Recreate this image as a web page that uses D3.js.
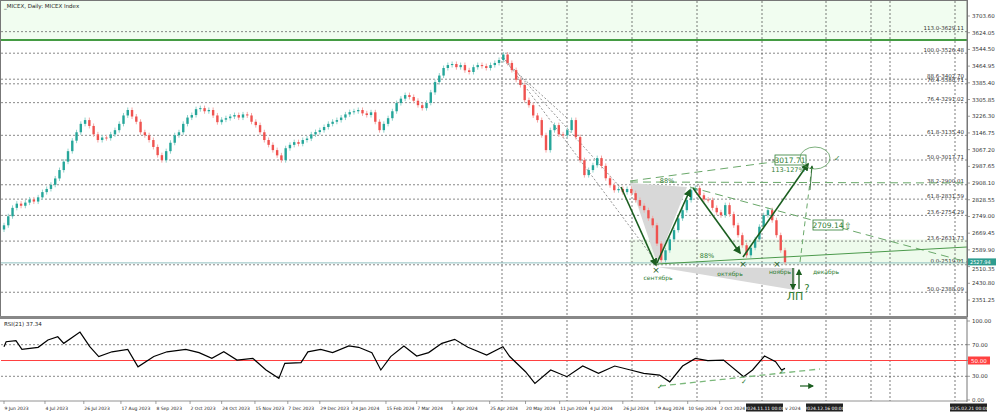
<!DOCTYPE html>
<html><head><meta charset="utf-8">
<script src="https://cdn.jsdelivr.net/npm/d3@7"></script>
<style>body{margin:0;background:#fff}svg{display:block;font-family:"DejaVu Sans",sans-serif}</style>
</head><body><svg id="c" width="1000" height="414"></svg>
<script>
// ---- data ----
const closes=[2707,2750,2790,2810,2800,2815,2830,2820,2840,2865,
2880,2900,2930,2970,3010,3060,3110,3150,3190,3208,
3180,3140,3113,3125,3122,3140,3160,3190,3230,3256,
3225,3200,3150,3136,3113,3080,3041,3017,
3060,3100,3136,3150,3190,3220,3232,
3260,3265,3250,3256,3230,3198,3210,3217,
3225,3232,3220,3235,3230,3200,3184,
3150,3113,3090,3065,3040,3017,
3074,3090,3103,3095,3113,3120,3140,3151,
3160,3175,3190,3200,3208,3220,3235,3246,
3250,3256,3240,3232,3245,3200,3160,
3190,3217,3250,3289,3310,3327,
3318,3300,3279,3265,3290,3340,3389,
3420,3456,3470,3475,3460,3470,3445,3437,
3460,3470,3465,3456,3470,3480,3494,3520,
3480,3446,3400,3375,3303,3279,3230,3208,3136,
3065,3160,3184,3140,3136,3160,3208,3127,
3017,2946,2970,2993,3027,2990,2931,2898,2874,2880,
2865,2880,2860,2827,2800,2779,2740,2707,2620,
2541,2588,2640,2684,2740,2779,2827,2874,
2884,2850,2830,2827,2790,2769,2755,
2803,2760,2707,2660,2612,2564,
2600,2640,2700,2755,2779,2731,2660,2588,2531];
const rsiIdx=[0,0.5,2.8,4.2,8,10.3,12.6,14,17.8,20.1,22.2,25.3,29,31.4,35.1,38.2,42.6,45.7,48.7,51.5,54.6,58.3,61.4,64.4,65.8,69.6,71.2,74.2,77,80.8,83.1,86.2,88.3,90.6,93.7,96.7,99.5,102.6,105.6,108.7,113.1,116.9,118.5,122.2,124.4,128.1,131.9,135.6,139.3,143.1,146.8,149.9,153.6,156,159,162,164.9,168.6,173.3,175.4,178.2,180.8,182.2,183];
const rsiVal=[67.5,73.8,75,64,66.7,76,80,71.7,86,67.5,55,61,64,42,55,61,64,60,52.7,61,50.6,52.7,38,27.4,46.4,47.3,61,64,60,68.4,66.7,60,38,55,68.4,55.7,60,71.7,76.8,66.7,57,67.5,55,35.8,21,38,29.5,43,33.8,43,38,33.8,31.6,23,43,52.7,49.8,50.6,29.5,38,55.7,48.5,38,40];
const dateLabels=["9 Jun 2023","4 Jul 2023","26 Jul 2023","17 Aug 2023","8 Sep 2023","2 Oct 2023","24 Oct 2023","15 Nov 2023","7 Dec 2023","29 Dec 2023","24 Jan 2024","15 Feb 2024","7 Mar 2024","3 Apr 2024","25 Apr 2024","20 May 2024","11 Jun 2024","4 Jul 2024","26 Jul 2024","19 Aug 2024","10 Sep 2024","2 Oct 2024"];
const dateIdx=[0,9.6,18.7,27.4,35.6,43.6,51,58.8,66.5,74,81.5,89.5,96.7,105,113.8,122.2,130.2,137.2,145,152.5,160.2,167.7];
const priceTicks=[3703.60,3624.05,3544.50,3464.95,3385.40,3305.85,3226.30,3146.75,3067.20,2987.65,2908.10,2828.55,2749.00,2669.45,2589.90,2510.35,2430.80,2351.25];
const fibLabels=["113.0-3629.11","100.0-3526.48","88.6-3402.70","76.4-3380.71","76.4-3291.02","61.8-3135.40","50.0-3017.71","38.2-2900.01","61.8-2831.59","23.6-2754.29","23.6-2631.73","0.0-2519.01","50.0-2388.09"];
const fibPrices=[3629.11,3526.48,3402.70,3380.71,3291.02,3135.40,3017.71,2900.01,2831.59,2754.29,2631.73,2519.01,2388.09];
const rsiTicks=[100,70,50,30,0];
const lastPrice=2527.94, rsiLast=37.34;

const svg=d3.select("#c");
const x=d3.scaleLinear().domain([0,183]).range([4,785]);
const y=d3.scaleLinear().domain([3703.6,2351.25]).range([16,300]);
const yr=d3.scaleLinear().domain([0,100]).range([400,321]);
const AX=967, G="#2e7d32", DG="#1b5e20";

svg.append("rect").attr("x",1).attr("y",1).attr("width",AX-1).attr("height",y(3589)).attr("fill","#f1fdf0");
svg.append("line").attr("x1",1).attr("x2",AX).attr("y1",y(3589)).attr("y2",y(3589)).attr("stroke","#0a7a0a").attr("stroke-width",1.5);
svg.append("rect").attr("x",630).attr("y",y(2640)).attr("width",AX-630).attr("height",y(2519)-y(2640)).attr("fill","#eefbec");
[502,567,632,697,762,826,871,890,955].forEach(v=>{
  svg.append("line").attr("x1",v).attr("x2",v).attr("y1",1).attr("y2",316).attr("stroke","#444").attr("stroke-dasharray","2,2").attr("stroke-width",0.7);
  svg.append("line").attr("x1",v).attr("x2",v).attr("y1",320).attr("y2",401).attr("stroke","#444").attr("stroke-dasharray","2,2").attr("stroke-width",0.7);
});
fibPrices.forEach((p,i)=>{
  svg.append("line").attr("x1",1).attr("x2",AX).attr("y1",y(p)).attr("y2",y(p)).attr("stroke","#555").attr("stroke-dasharray","2,2").attr("stroke-width",0.7);
  svg.append("text").attr("x",AX-3).attr("y",y(p)-1.5).attr("text-anchor","end").attr("font-size",5.5).attr("fill","#333").text(fibLabels[i]);
});
const poly=(pts,f)=>svg.append("polygon").attr("points",pts.map(p=>p.join(",")).join(" ")).attr("fill",f);
poly([[630,183],[687,187],[657,263]],"#d8d8d8");
poly([[657,267],[795,268],[795,290]],"#d8d8d8");
svg.append("line").attr("x1",1).attr("x2",AX).attr("y1",y(lastPrice)).attr("y2",y(lastPrice)).attr("stroke","#8fbfbf").attr("stroke-width",1);
[[503,57,657,263],[503,57,620,187],[503,60,567,118]].forEach(l=>svg.append("line").attr("x1",l[0]).attr("y1",l[1]).attr("x2",l[2]).attr("y2",l[3]).attr("stroke","#666").attr("stroke-dasharray","2,2").attr("stroke-width",0.7));
const g=svg.append("g");
closes.forEach((c,i)=>{
  const o=i?closes[i-1]:c-20, up=c>=o, col=up?"#26a69a":"#ef5350";
  const hi=Math.max(o,c)+12, lo=Math.min(o,c)-12;
  g.append("line").attr("x1",x(i)).attr("x2",x(i)).attr("y1",y(hi)).attr("y2",y(lo)).attr("stroke",up?"#8fd3cb":"#f4a8a6").attr("stroke-width",1);
  g.append("rect").attr("x",x(i)-1.2).attr("width",2.4).attr("y",y(Math.max(o,c))).attr("height",Math.max(1,Math.abs(y(o)-y(c)))).attr("fill",col);
});
const ln=(a,b,c,d,col,w,da)=>svg.append("line").attr("x1",a).attr("y1",b).attr("x2",c).attr("y2",d).attr("stroke",col).attr("stroke-width",w).attr("stroke-dasharray",da||null);
ln(630,182,AX,183,"#6aa86a",1,"8,5");
ln(630,181,803,158,"#6aa86a",1,"8,5");
ln(690,187,AX,262,"#6aa86a",1,"8,5");
ln(657,264,AX,247,"#4c9a4c",1);
ln(800,262,812,166,"#6aa86a",1,"5,4");
ln(768,160,775,160,"#333",0.7,"2,2");
svg.append("defs").html('<marker id="ah" viewBox="0 0 10 10" refX="8" refY="5" markerWidth="5" markerHeight="5" orient="auto"><path d="M0,0L10,5L0,10z" fill="#1b5e20"/></marker>');
const arr=(a,b,c,d,w)=>ln(a,b,c,d,DG,w||1.6).attr("marker-end","url(#ah)");
arr(621,187,656,265);arr(657,263,690,190);arr(693,188,740,253);arr(743,257,808,164);
arr(793,268,793,289,1.3);arr(799,289,799,270,1.3);arr(810,190,812,166,0.8);
const txt=(t,a,b,s,col,anc)=>svg.append("text").attr("x",a).attr("y",b).attr("font-size",s).attr("fill",col).attr("text-anchor",anc||"middle").text(t);
[[656,270],[743,264],[777,264]].forEach(p=>txt("×",p[0],p[1]+3,9,DG));
txt("сентябрь",658,280,6,G);txt("октябрь",730,276,6,G);txt("ноябрь",780,274,6,G);txt("декабрь",826,274,6,G);
txt("88%",707,258,6.5,G);txt("88%",667,183,6.5,G);txt("113-127%",788,172,6.5,G);
txt("ЛП",795,300,11,G);txt("?",807,292,10,G);
svg.append("rect").attr("x",775).attr("y",155).attr("width",31).attr("height",10).attr("fill","#fff").attr("stroke",G).attr("stroke-width",0.8);
txt("3017.71",790,163,7.5,G);
svg.append("rect").attr("x",813).attr("y",220).attr("width",30).attr("height",10).attr("fill","#fff").attr("stroke",G).attr("stroke-width",0.8);
txt("2709.14",828,228,7.5,G);txt("⇧",848,229,9,G);
svg.append("ellipse").attr("cx",815).attr("cy",158).attr("rx",15).attr("ry",11).attr("fill","none").attr("stroke","#5a9a5a").attr("stroke-width",0.8);
txt("✓",837,161,8,G);
txt("_MICEX, Daily:  MICEX Index",4,8,5.5,"#222","start");
svg.append("line").attr("x1",AX).attr("x2",AX).attr("y1",0).attr("y2",402).attr("stroke","#777");
priceTicks.forEach(p=>{ln(AX,y(p),AX+3,y(p),"#777",0.7);txt(p.toFixed(2),AX+5,y(p)+(p===2510.35?4:2),5.5,"#333","start");});
svg.append("rect").attr("x",AX+1).attr("y",y(lastPrice)-4.5).attr("width",28).attr("height",7).attr("fill","#2e9c8f");
txt(lastPrice.toFixed(2),AX+3,y(lastPrice)+1,5,"#fff","start");
svg.append("rect").attr("x",0.5).attr("y",0.5).attr("width",AX).attr("height",316).attr("fill","none").attr("stroke","#777");
svg.append("rect").attr("x",0).attr("y",316).attr("width",AX).attr("height",3).attr("fill","#888");
rsiTicks.forEach(v=>{
  if(v>0&&v<100&&v!==50) ln(1,yr(v),AX,yr(v),"#555",0.7,"2,2");
  ln(AX,yr(v),AX+3,yr(v),"#777",0.7);
  txt(v.toFixed(2),AX+5,yr(v)+2,5.5,"#333","start");
});
ln(1,yr(50),AX,yr(50),"#ff4040",1.2);
svg.append("rect").attr("x",AX+1).attr("y",yr(50)-4).attr("width",22).attr("height",8).attr("fill","#ff4040");
txt("50.00",AX+4,yr(50)+2,5.5,"#fff","start");
svg.append("path").datum(rsiIdx.map((d,i)=>[d,rsiVal[i]])).attr("d",d3.line().x(d=>x(d[0])).y(d=>yr(d[1]))).attr("fill","none").attr("stroke","#000").attr("stroke-width",1.2);
txt("RSI(21) 37.34",4,326,5.5,"#222","start");
ln(660,386,820,369,"#7bb87b",1.3,"6,4");
[[660,389],[744,384],[782,374]].forEach(p=>txt("✓",p[0],p[1],7,G));
ln(800,386,813,386,DG,1.2).attr("marker-end","url(#ah)");
ln(0,401,AX,401,"#777",0.8);
dateLabels.forEach((t,i)=>{ln(x(dateIdx[i]),401,x(dateIdx[i]),404,"#777",0.7);txt(t,x(dateIdx[i])+0.5,410,4.5,"#222","start");});
[["2024.11.11 00:00",746],["2024.12.16 00:00",806],["2025.02.21 00:00",950]].forEach(b=>{
  svg.append("rect").attr("x",b[1]).attr("y",403.5).attr("width",37).attr("height",8).attr("fill","#222");
  txt(b[0],b[1]+18.5,409.7,4.5,"#fff");
});
txt("v 2024",785,410,4.5,"#222","start");
</script></body></html>
